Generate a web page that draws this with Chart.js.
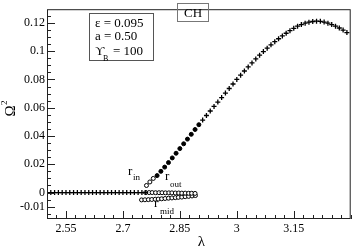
<!DOCTYPE html>
<html>
<head>
<meta charset="utf-8">
<script src="https://cdn.jsdelivr.net/npm/chart.js@4.4.1/dist/chart.umd.min.js"></script>
<style>
  body { margin: 0; background: #fff; }
  #wrap { width: 356px; height: 248px; position: relative; }
</style>
</head>
<body>
<div id="wrap"><canvas id="c"></canvas></div>
<script>
// values
const lamFlat = [2.50, 2.51, 2.52, 2.53, 2.54, 2.55, 2.56, 2.57, 2.58, 2.59, 2.60, 2.61, 2.62, 2.63,
                 2.64, 2.65, 2.66, 2.67, 2.68, 2.69, 2.70, 2.71, 2.72, 2.73, 2.74, 2.75, 2.76];
const omFlat = [0, 0, 0, 0, 0, 0, 0, 0, 0, 0, 0, 0, 0, 0, 0, 0, 0, 0, 0, 0, 0, 0, 0, 0, 0, 0, 0];

const lamRow0 = [2.760, 2.769, 2.777, 2.786, 2.795, 2.803, 2.812, 2.821, 2.829, 2.838, 2.847, 2.855, 2.864, 2.873, 2.881, 2.890];
const omRow0 = [0, 0, 0, -0.0001, -0.0001, -0.0001, -0.0002, -0.0002, -0.0002, -0.0003, -0.0003, -0.0004, -0.0004, -0.0005, -0.0005, -0.0006];

const lamMid = [2.749, 2.758, 2.767, 2.776, 2.785, 2.793, 2.802, 2.811, 2.820, 2.829, 2.838, 2.846, 2.855, 2.864, 2.873, 2.882, 2.891];
const omMid = [-0.0052, -0.0051, -0.0050, -0.0049, -0.0047, -0.0046, -0.0044, -0.0042, -0.0040, -0.0038, -0.0036, -0.0034, -0.0032, -0.0029, -0.0027, -0.0024, -0.0021];

const lamIn = [2.762, 2.771, 2.780];
const omIn = [0.0050, 0.0075, 0.0100];

const lamOut = [2.790, 2.800, 2.810, 2.820, 2.830, 2.840, 2.850, 2.860, 2.870, 2.880, 2.890, 2.900];
const omOut = [0.0120, 0.0150, 0.0180, 0.0212, 0.0245, 0.0278, 0.0311, 0.0345, 0.0378, 0.0412, 0.0446, 0.0480];

const lamUpper = [2.91, 2.92, 2.93, 2.94, 2.95, 2.96, 2.97, 2.98, 2.99, 3.00, 3.01, 3.02, 3.03, 3.04, 3.05,
                  3.06, 3.07, 3.08, 3.09, 3.10, 3.11, 3.12, 3.13, 3.14, 3.15, 3.16, 3.17, 3.18, 3.19, 3.20,
                  3.21, 3.22, 3.23, 3.24, 3.25, 3.26, 3.27, 3.28, 3.29];
const omUpper = [0.0513, 0.0545, 0.0577, 0.0609, 0.0640, 0.0672, 0.0704, 0.0736, 0.0768, 0.0800, 0.0830, 0.0860, 0.0889, 0.0917, 0.0945,
                 0.0972, 0.0997, 0.1021, 0.1045, 0.1067, 0.1088, 0.1108, 0.1127, 0.1145, 0.1162, 0.1177, 0.1188, 0.1198, 0.1205, 0.1210,
                 0.1212, 0.1211, 0.1206, 0.1198, 0.1188, 0.1177, 0.1164, 0.1149, 0.1132];

const xMajor = [2.55, 2.7, 2.85, 3, 3.15];
const xMajorLabels = ['2.55', '2.7', '2.85', '3', '3.15'];
const yMajor = [-0.01, 0, 0.02, 0.04, 0.06, 0.08, 0.1, 0.12];
const yMajorLabels = ['-0.01', '0', '0.02', '0.04', '0.06', '0.08', '0.1', '0.12'];

const SERIF = '"Liberation Serif", "DejaVu Serif", serif';

function pts(xs, ys) {
  return xs.map((x, i) => ({ x: x, y: ys[i] }));
}

// inward ticks, frame, axis titles and annotations
const decor = {
  id: 'decor',
  afterDraw(chart) {
    const ctx = chart.ctx;
    const a = chart.chartArea;
    const xs = chart.scales.x, ys = chart.scales.y;
    ctx.save();
    ctx.strokeStyle = '#222';
    ctx.lineWidth = 1;
    ctx.strokeRect(a.left + 0.5, a.top + 0.5, a.right - a.left - 1, a.bottom - a.top - 1);

    ctx.beginPath();
    for (let k = 0; k <= 32; k++) {
      const v = 2.5 + k * 0.025;
      const px = Math.round(xs.getPixelForValue(v)) + 0.5;
      const major = xMajor.some(m => Math.abs(m - v) < 1e-6);
      ctx.moveTo(px, a.bottom);
      ctx.lineTo(px, a.bottom - (major ? 8 : 4));
    }
    for (let k = -3; k <= 25; k++) {
      const v = k * 0.005;
      const py = Math.round(ys.getPixelForValue(v)) + 0.5;
      if (py < a.top || py > a.bottom) continue;
      const major = yMajor.some(m => Math.abs(m - v) < 1e-6);
      ctx.moveTo(a.left, py);
      ctx.lineTo(a.left + (major ? 8 : 4), py);
    }
    ctx.stroke();

    ctx.fillStyle = '#000';
    ctx.textBaseline = 'alphabetic';
    // x title
    ctx.font = '15px ' + SERIF;
    ctx.textAlign = 'center';
    ctx.fillText('λ', 201.5, 246);
    // y title
    ctx.save();
    ctx.translate(15, 111);
    ctx.rotate(-Math.PI / 2);
    ctx.textAlign = 'center';
    ctx.font = '15px ' + SERIF;
    ctx.fillText('Ω', 0, 0);
    ctx.font = '9px ' + SERIF;
    ctx.textAlign = 'left';
    ctx.fillText('2', 6, -8);
    ctx.restore();

    // parameter box
    ctx.strokeStyle = '#555';
    ctx.strokeRect(89.5, 13.5, 64, 47);
    ctx.textAlign = 'left';
    ctx.font = '13px ' + SERIF;
    ctx.fillText('ε = 0.095', 95, 27);
    ctx.fillText('a = 0.50', 95, 40);
    ctx.fillText('ϒ', 95, 55);
    ctx.fillText('= 100', 113, 55);
    ctx.font = '8px ' + SERIF;
    ctx.fillText('B', 103, 61);

    // CH box
    ctx.strokeStyle = '#777';
    ctx.strokeRect(177.5, 3.5, 31, 18);
    ctx.font = '13px ' + SERIF;
    ctx.textAlign = 'center';
    ctx.fillText('CH', 193, 17);

    // branch labels
    ctx.textAlign = 'left';
    ctx.font = '13px ' + SERIF;
    ctx.fillText('r', 128, 175);
    ctx.fillText('r', 165, 180);
    ctx.fillText('r', 154, 207);
    ctx.font = '9px ' + SERIF;
    ctx.fillText('in', 133, 180);
    ctx.fillText('out', 170, 187);
    ctx.fillText('mid', 160, 214);
    ctx.restore();
  }
};

const cross = { pointStyle: 'cross', pointRadius: 2.5, borderColor: '#000', borderWidth: 1.3 };
const dot = { pointStyle: 'circle', pointRadius: 2, backgroundColor: '#000', borderColor: '#000', borderWidth: 1 };
const ring = { pointStyle: 'circle', pointRadius: 2, backgroundColor: '#fff', borderColor: '#000', borderWidth: 1 };

new Chart(document.getElementById('c'), {
  type: 'scatter',
  data: {
    datasets: [
      Object.assign({ data: pts(lamFlat, omFlat) }, cross),
      Object.assign({ data: pts(lamRow0, omRow0) }, ring),
      Object.assign({ data: pts(lamMid, omMid) }, ring),
      Object.assign({ data: pts(lamIn, omIn) }, ring),
      Object.assign({ data: pts(lamOut, omOut) }, dot),
      Object.assign({ data: pts(lamUpper, omUpper) }, cross)
    ]
  },
  options: {
    responsive: true,
    maintainAspectRatio: false,
    animation: false,
    layout: { padding: { top: 1, right: 2, left: 0, bottom: 0 } },
    plugins: { legend: { display: false }, tooltip: { enabled: false } },
    scales: {
      x: {
        type: 'linear',
        min: 2.5,
        max: 3.3,
        afterBuildTicks: s => { s.ticks = xMajor.map(v => ({ value: v })); },
        afterFit: s => { s.height = 29; },
        grid: { display: false, drawTicks: false, tickLength: 0 },
        border: { display: false },
        ticks: {
          autoSkip: false,
          maxRotation: 0,
          padding: 3,
          color: '#000',
          font: { family: SERIF, size: 12 },
          callback: (v, i) => xMajorLabels[i]
        }
      },
      y: {
        type: 'linear',
        min: -0.0187,
        max: 0.1297,
        afterBuildTicks: s => { s.ticks = yMajor.map(v => ({ value: v })); },
        afterFit: s => { s.width = 47; },
        grid: { display: false, drawTicks: false, tickLength: 0 },
        border: { display: false },
        ticks: {
          autoSkip: false,
          padding: 2,
          color: '#000',
          font: { family: SERIF, size: 12 },
          callback: (v, i) => yMajorLabels[i]
        }
      }
    }
  },
  plugins: [decor]
});
</script>
</body>
</html>
